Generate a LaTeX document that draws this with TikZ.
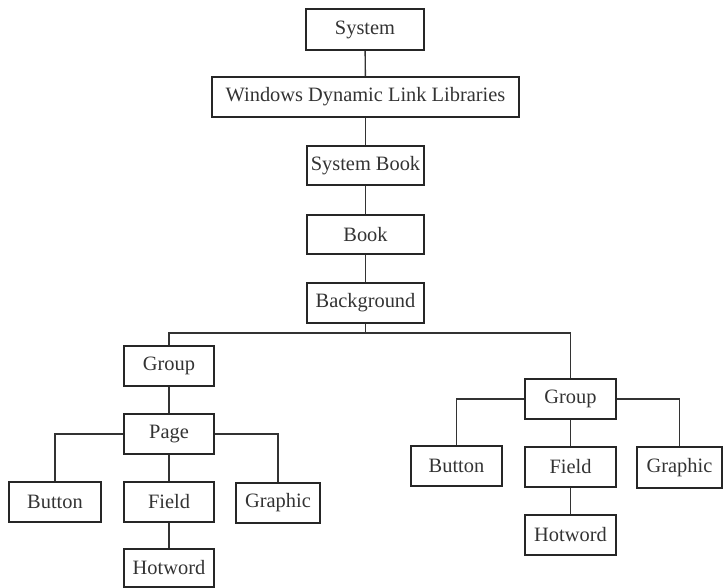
\documentclass[tikz,border=0pt]{standalone}
\usepackage{fontspec}
\setmainfont{Liberation Serif}
\begin{document}
\begin{tikzpicture}[x=1pt,y=-1pt,
  box/.style={draw=black!85, line width=2pt, inner sep=0pt, text=black!80,
    font=\fontsize{20.4}{23}\selectfont},
  conn/.style={draw=black!80, line width=1.4pt}]
\useasboundingbox (0,0) rectangle (724,588);
\node[box, minimum width=118pt, minimum height=41pt] (sys) at (365,29.5) {System};
\node[box, minimum width=307pt, minimum height=40pt] (wdll) at (365.5,97) {Windows Dynamic Link Libraries};
\node[box, minimum width=117pt, minimum height=39pt] (sysbook) at (365.5,165.5) {System Book};
\node[box, minimum width=117pt, minimum height=39pt] (book) at (365.5,234.5) {Book};
\node[box, minimum width=117pt, minimum height=40pt] (bg) at (365.5,303) {Background};
\coordinate (bus) at (365.5,333);
\node[box, minimum width=90pt, minimum height=40pt] (lgroup) at (169,366) {Group};
\node[box, minimum width=90pt, minimum height=40pt] (page) at (169,434) {Page};
\node[box, minimum width=92pt, minimum height=40pt] (lbutton) at (55,502) {Button};
\node[box, minimum width=90pt, minimum height=40pt] (lfield) at (169,502) {Field};
\node[box, minimum width=84pt, minimum height=40pt] (lgraphic) at (278,503) {Graphic};
\node[box, minimum width=90pt, minimum height=38pt] (lhot) at (169,567.5) {Hotword};
\node[box, minimum width=91pt, minimum height=40pt] (rgroup) at (570.5,399) {Group};
\node[box, minimum width=91pt, minimum height=40pt] (rbutton) at (456.5,466) {Button};
\node[box, minimum width=91pt, minimum height=40pt] (rfield) at (570.5,467) {Field};
\node[box, minimum width=85pt, minimum height=41pt] (rgraphic) at (679.5,467.5) {Graphic};
\node[box, minimum width=91pt, minimum height=40pt] (rhot) at (570.5,535) {Hotword};
\draw[conn] (sys) -- (wdll);
\draw[conn] (wdll) -- (sysbook);
\draw[conn] (sysbook) -- (book);
\draw[conn] (book) -- (bg);
\draw[conn] (bg) -- (bus);
\draw[conn] (lgroup.north) |- (bus) -| (rgroup.north);
\draw[conn] (lgroup) -- (page);
\draw[conn] (page.west) -| (lbutton.north);
\draw[conn] (page.east) -| (lgraphic.north);
\draw[conn] (page) -- (lfield);
\draw[conn] (lfield) -- (lhot);
\draw[conn] (rgroup.west) -| (rbutton.north);
\draw[conn] (rgroup.east) -| (rgraphic.north);
\draw[conn] (rgroup) -- (rfield);
\draw[conn] (rfield) -- (rhot);
\end{tikzpicture}
\end{document}
